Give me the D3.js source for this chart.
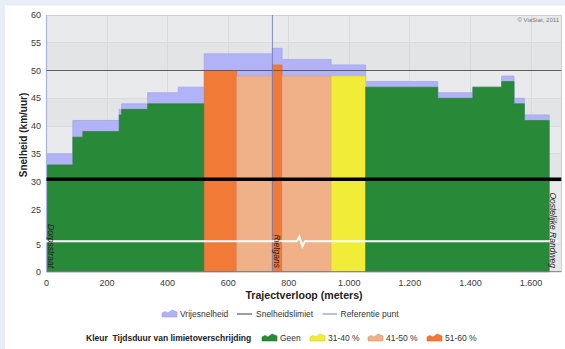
<!DOCTYPE html>
<html>
<head>
<meta charset="utf-8">
<script src="https://cdn.jsdelivr.net/npm/d3@7"></script>
<style>
  html, body { margin: 0; padding: 0; background: #fff; }
  svg { display: block; font-family: "Liberation Sans", Arial, sans-serif; }
</style>
</head>
<body>
<svg id="chart" width="565" height="349"></svg>
<script>
// Speed profile along the route: each segment starts at a distance (m)
const segmentStart = [0, 87, 120, 240, 248, 334, 435, 521, 628, 746, 778, 940, 1054, 1292, 1408, 1503, 1544, 1578];
const routeEnd = 1660;
// measured speed (km/uur) per segment, coloured by exceedance class
const speed = [33, 38, 39, 42, 43, 44, 44, 50, 49, 51, 49, 49, 47, 45, 47, 48, 44, 41];
// free-flow speed (km/uur) per segment
const freeSpeed = [35, 41, 41, 43, 44, 46, 47, 53, 53, 54, 52, 51, 48, 46, 47, 49, 45, 42];
// share of time above the limit per segment
const exceedClass = ["Geen", "Geen", "Geen", "Geen", "Geen", "Geen", "Geen",
  "51-60 %", "41-50 %", "51-60 %", "41-50 %", "31-40 %",
  "Geen", "Geen", "Geen", "Geen", "Geen", "Geen"];
const classNames = ["Geen", "31-40 %", "41-50 %", "51-60 %"];
const classColors = ["#288a38", "#f0ec38", "#f0b088", "#f07a36"];

const speedLimit = 50;
const referencePoint = 746;
const markerSpeed = 30.4;
const roadNames = ["Dorpsstraat", "Rietgans", "Oostelijke Randweg"];
const roadAt = [0, 746, 1660];

const xTicks = [0, 200, 400, 600, 800, 1000, 1200, 1400, 1600];
const yTicks = [0, 5, 25, 30, 35, 40, 45, 50, 55, 60];

const svg = d3.select("#chart");
const W = 565, H = 349;

// page frame
svg.append("rect").attr("width", W).attr("height", H).attr("fill", "#e9edf8");
svg.append("rect").attr("x", 5).attr("y", 5.5).attr("width", W - 5).attr("height", H - 5.5).attr("fill", "#fff");

const x = d3.scaleLinear().domain([0, 1700]).range([46.5, 561.3]);
// broken value axis: 5..25 is compressed
const y = d3.scaleLinear().domain([0, 5, 25, 60]).range([271.7, 244.3, 209.3, 15]);

const plotL = x(0), plotR = x(1700), plotT = y(60), plotB = y(0);

// plot background with alternating bands
svg.append("rect").attr("x", plotL).attr("y", plotT).attr("width", plotR - plotL)
  .attr("height", plotB - plotT).attr("fill", "#e6e7e9");
const bandEdges = yTicks.slice(2);
for (let i = 0; i < bandEdges.length - 1; i++) {
  const lo = bandEdges[i], hi = bandEdges[i + 1];
  svg.append("rect").attr("x", plotL).attr("y", y(hi)).attr("width", plotR - plotL)
    .attr("height", y(lo) - y(hi))
    .attr("fill", (i % 2 === 0) ? "#e9eaec" : "#e3e4e6");
}

// grid
const grid = svg.append("g").attr("stroke", "#d9dadc").attr("stroke-width", 1).attr("shape-rendering", "crispEdges");
xTicks.slice(1).forEach(t => grid.append("line").attr("x1", x(t)).attr("x2", x(t)).attr("y1", plotT).attr("y2", plotB));
yTicks.slice(1).forEach(t => grid.append("line").attr("x1", plotL).attr("x2", plotR).attr("y1", y(t)).attr("y2", y(t)));

// step data
const pts = (vals) => segmentStart.map((s, i) => ({ d: s, v: vals[i] }))
  .concat([{ d: routeEnd, v: vals[vals.length - 1] }]);

const area = d3.area().curve(d3.curveStepAfter)
  .x(p => x(p.d)).y0(y(0)).y1(p => y(p.v));

// free-flow speed
svg.append("path").datum(pts(freeSpeed)).attr("d", area)
  .attr("fill", "#b2b2f6").attr("stroke", "#a6a6ee").attr("stroke-width", 0.8);

// measured speed, one area per run of equal class
let runs = [];
segmentStart.forEach((s, i) => {
  const last = runs[runs.length - 1];
  if (last && last.cls === exceedClass[i]) last.idx.push(i);
  else runs.push({ cls: exceedClass[i], idx: [i] });
});
runs.forEach(r => {
  const p = r.idx.map(i => ({ d: segmentStart[i], v: speed[i] }));
  const lastI = r.idx[r.idx.length - 1];
  const endD = lastI + 1 < segmentStart.length ? segmentStart[lastI + 1] : routeEnd;
  p.push({ d: endD, v: speed[lastI] });
  const c = classColors[classNames.indexOf(r.cls)];
  svg.append("path").datum(p).attr("d", area).attr("fill", c)
    .attr("stroke", d3.color(c).darker(0.3)).attr("stroke-width", 0.6);
});

// plot frame and axes
svg.append("line").attr("x1", plotL).attr("x2", plotR).attr("y1", plotT).attr("y2", plotT)
  .attr("stroke", "#cfcfcf").attr("shape-rendering", "crispEdges");
svg.append("line").attr("x1", plotR).attr("x2", plotR).attr("y1", plotT).attr("y2", plotB)
  .attr("stroke", "#cfcfcf").attr("shape-rendering", "crispEdges");
svg.append("line").attr("x1", plotL).attr("x2", plotR).attr("y1", plotB).attr("y2", plotB)
  .attr("stroke", "#7a7a7a").attr("stroke-width", 1);
svg.append("line").attr("x1", plotL).attr("x2", plotL).attr("y1", plotT).attr("y2", plotB)
  .attr("stroke", "#aab3df").attr("stroke-width", 1.2);

// speed limit
svg.append("line").attr("x1", plotL).attr("x2", plotR).attr("y1", y(speedLimit)).attr("y2", y(speedLimit))
  .attr("stroke", "#5e5e5e").attr("stroke-width", 1);

// reference point
svg.append("line").attr("x1", x(referencePoint)).attr("x2", x(referencePoint)).attr("y1", plotT).attr("y2", plotB)
  .attr("stroke", "#6f7cb8").attr("stroke-opacity", 0.85).attr("stroke-width", 1);

// marker line
svg.append("line").attr("x1", plotL).attr("x2", plotR).attr("y1", y(markerSpeed)).attr("y2", y(markerSpeed))
  .attr("stroke", "#000").attr("stroke-width", 3.6);

// axis break symbol
const by = y(5) - 3;
const zx = x(840);
svg.append("path")
  .attr("d", `M${plotL - 1},${by} L${zx - 4},${by} L${zx - 1.5},${by - 4.5} L${zx + 1.5},${by + 5} L${zx + 4},${by} L${plotR - 3},${by}`)
  .attr("fill", "none").attr("stroke", "#fff").attr("stroke-width", 2).attr("stroke-linejoin", "miter");

// axes text
const fmt = d3.formatLocale({ decimal: ",", thousands: ".", grouping: [3], currency: ["", ""] }).format(",");
const tickG = svg.append("g").attr("font-size", 9).attr("fill", "#3a3a3a");
xTicks.forEach(t => tickG.append("text").attr("x", x(t)).attr("y", 286)
  .attr("text-anchor", "middle").text(fmt(t)));
yTicks.forEach(t => tickG.append("text").attr("x", 41).attr("y", y(t) + 3.2)
  .attr("text-anchor", "end").text(t));

svg.append("text").attr("x", 304).attr("y", 298.5).attr("text-anchor", "middle")
  .attr("font-size", 10.6).attr("font-weight", "bold").attr("fill", "#222")
  .text("Trajectverloop (meters)");
svg.append("text").attr("transform", "translate(26.5,135) rotate(-90)").attr("text-anchor", "middle")
  .attr("font-size", 10).attr("font-weight", "bold").attr("fill", "#222")
  .text("Snelheid (km/uur)");

svg.append("text").attr("x", 559).attr("y", 21.5).attr("text-anchor", "end")
  .attr("font-size", 6).attr("fill", "#777").text("© ViaStat, 2011");

// road names
roadNames.forEach((n, i) => {
  svg.append("text")
    .attr("transform", `translate(${x(roadAt[i]) + 1.2},268) rotate(90)`)
    .attr("text-anchor", "end").attr("font-size", 8.5).attr("font-style", "italic")
    .attr("fill", "#1e1e1e").text(n);
});

// legend
const iconPath = "M0,7 L0,3 L3,1.5 L6,3 L10,0 L15,2 L15,7 Z";
const lg = svg.append("g").attr("font-size", 8.5).attr("fill", "#333");
lg.append("path").attr("transform", "translate(162,310)").attr("d", iconPath)
  .attr("fill", "#b2b2f6").attr("stroke", "#9b9be8").attr("stroke-width", 0.6);
lg.append("text").attr("x", 180).attr("y", 317).text("Vrijesnelheid");
lg.append("line").attr("x1", 237).attr("x2", 252).attr("y1", 314).attr("y2", 314)
  .attr("stroke", "#5e5e5e").attr("stroke-width", 1.2);
lg.append("text").attr("x", 256).attr("y", 317).text("Snelheidslimiet");
lg.append("line").attr("x1", 322.5).attr("x2", 337).attr("y1", 314).attr("y2", 314)
  .attr("stroke", "#8a96cf").attr("stroke-width", 1.2);
lg.append("text").attr("x", 340.5).attr("y", 317).text("Referentie punt");

lg.append("text").attr("x", 86).attr("y", 341).attr("font-weight", "bold").attr("fill", "#222").text("Kleur");
lg.append("text").attr("x", 112.5).attr("y", 341).attr("font-weight", "bold").attr("fill", "#222")
  .text("Tijdsduur van limietoverschrijding");
const legX = [262, 310, 368, 427];
classNames.forEach((n, i) => {
  lg.append("path").attr("transform", `translate(${legX[i]},334)`).attr("d", iconPath)
    .attr("fill", classColors[i]).attr("stroke", d3.color(classColors[i]).darker(0.4)).attr("stroke-width", 0.6);
  lg.append("text").attr("x", legX[i] + 18).attr("y", 341).text(n);
});
</script>
</body>
</html>
